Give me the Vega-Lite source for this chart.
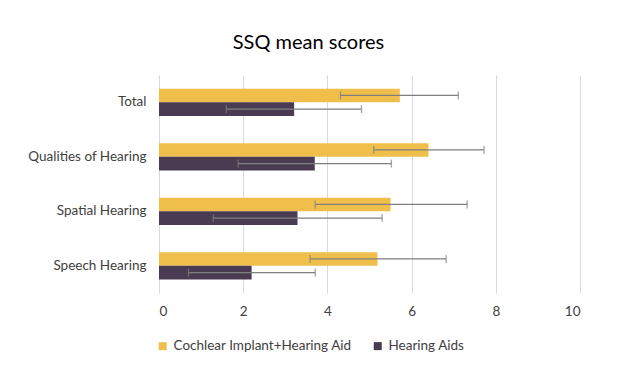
{
  "$schema": "https://vega.github.io/schema/vega-lite/v6.json",
  "width": 421,
  "height": 218,
  "autosize": "none",
  "padding": {"left": 159, "top": 75, "right": 48, "bottom": 79},
  "background": "white",
  "title": {"text": "SSQ mean scores", "anchor": "middle", "frame": "group", "dx": -61, "offset": 22, "fontSize": 20, "font": "Lato", "fontWeight": "normal", "color": "#000000"},
  "data": {"values": [
    {"category": "Total", "series": "Cochlear Implant+Hearing Aid", "mean": 5.72, "lo": 4.31, "hi": 7.11},
    {"category": "Total", "series": "Hearing Aids", "mean": 3.21, "lo": 1.6, "hi": 4.81},
    {"category": "Qualities of Hearing", "series": "Cochlear Implant+Hearing Aid", "mean": 6.4, "lo": 5.1, "hi": 7.72},
    {"category": "Qualities of Hearing", "series": "Hearing Aids", "mean": 3.7, "lo": 1.88, "hi": 5.52},
    {"category": "Spatial Hearing", "series": "Cochlear Implant+Hearing Aid", "mean": 5.5, "lo": 3.71, "hi": 7.32},
    {"category": "Spatial Hearing", "series": "Hearing Aids", "mean": 3.29, "lo": 1.29, "hi": 5.3},
    {"category": "Speech Hearing", "series": "Cochlear Implant+Hearing Aid", "mean": 5.19, "lo": 3.59, "hi": 6.82},
    {"category": "Speech Hearing", "series": "Hearing Aids", "mean": 2.2, "lo": 0.7, "hi": 3.71}
  ]},
  "encoding": {
    "y": {"field": "category", "type": "nominal", "sort": ["Total", "Qualities of Hearing", "Spatial Hearing", "Speech Hearing"],
      "scale": {"paddingInner": 0.5, "paddingOuter": 0.25},
      "axis": {"title": null, "domain": false, "ticks": false, "labelPadding": 13, "labelFontSize": 13.5, "labelFont": "Lato", "labelColor": "#404040"}},
    "yOffset": {"field": "series", "type": "nominal", "sort": ["Cochlear Implant+Hearing Aid", "Hearing Aids"], "scale": {"paddingInner": 0, "paddingOuter": 0}}
  },
  "layer": [
    {
      "mark": {"type": "bar"},
      "encoding": {
        "x": {"field": "mean", "type": "quantitative", "scale": {"domain": [0, 10], "nice": false},
          "axis": {"title": null, "values": [0, 2, 4, 6, 8, 10], "domain": false, "ticks": false, "grid": true, "gridColor": "#d9d9d9", "labelPadding": 11, "labelFontSize": 13.5, "labelFont": "Lato", "labelColor": "#404040"}},
        "color": {"field": "series", "type": "nominal", "sort": ["Cochlear Implant+Hearing Aid", "Hearing Aids"],
          "scale": {"range": ["#F0BF4B", "#4A3A52"]},
          "legend": {"title": null, "orient": "none", "legendX": -3, "legendY": 264, "direction": "horizontal", "symbolType": "square", "symbolSize": 64, "symbolStrokeWidth": 0, "labelFontSize": 13.5, "labelFont": "Lato", "labelColor": "#404040", "labelLimit": 400, "columnPadding": 19, "labelOffset": 4}}
      }
    },
    {
      "mark": {"type": "rule", "color": "#7f7f7f", "strokeWidth": 1.3},
      "encoding": {"x": {"field": "lo", "type": "quantitative"}, "x2": {"field": "hi"}}
    },
    {
      "mark": {"type": "tick", "orient": "vertical", "color": "#7f7f7f", "size": 8, "thickness": 1.3},
      "encoding": {"x": {"field": "lo", "type": "quantitative"}}
    },
    {
      "mark": {"type": "tick", "orient": "vertical", "color": "#7f7f7f", "size": 8, "thickness": 1.3},
      "encoding": {"x": {"field": "hi", "type": "quantitative"}}
    }
  ],
  "config": {"view": {"stroke": null}}
}
